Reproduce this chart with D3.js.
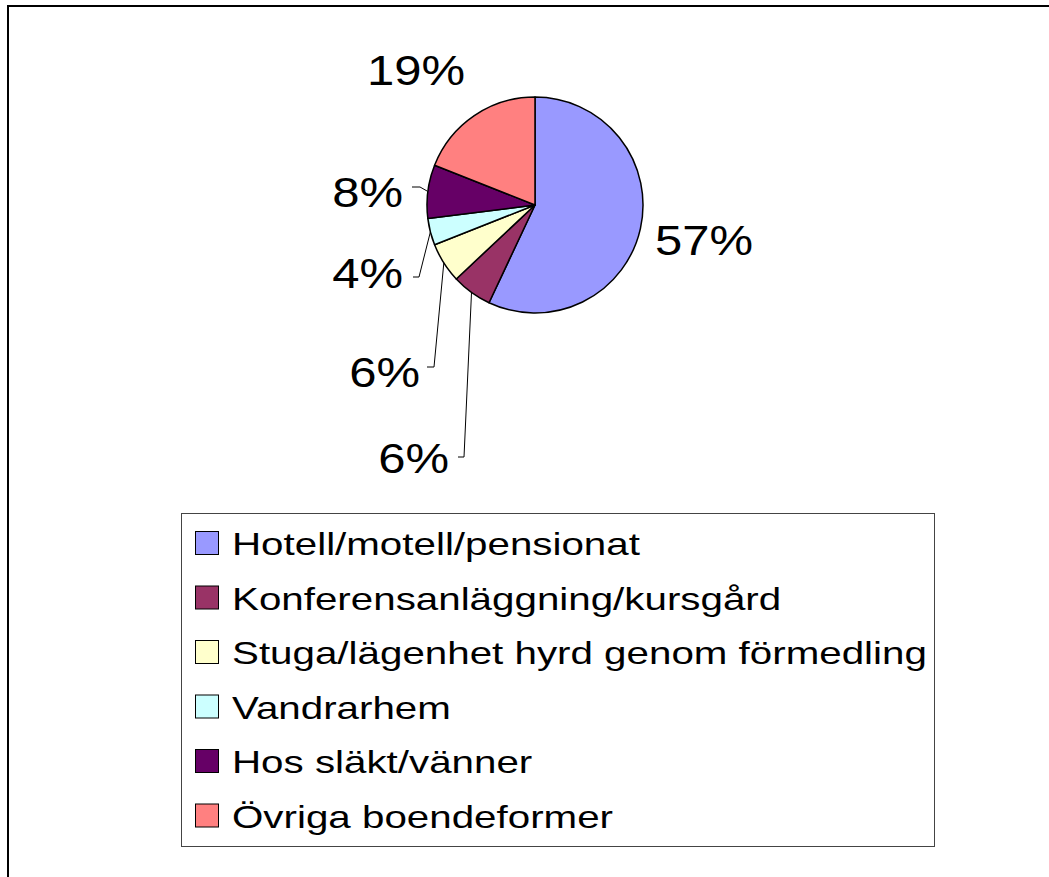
<!DOCTYPE html>
<html>
<head>
<meta charset="utf-8">
<script src="https://cdn.jsdelivr.net/npm/d3@7"></script>
<style>
  html, body { margin: 0; padding: 0; background: #fff; overflow: hidden; }
  svg { display: block; }
  text { font-family: "Liberation Sans", Arial, sans-serif; fill: #000; }
</style>
</head>
<body>
<script>
// Data
var categories = ["Hotell/motell/pensionat", "Konferensanläggning/kursgård",
  "Stuga/lägenhet hyrd genom förmedling", "Vandrarhem", "Hos släkt/vänner",
  "Övriga boendeformer"];
var shares = [57, 6, 6, 4, 8, 19];
var labels = ["57%", "6%", "6%", "4%", "8%", "19%"];
var colors = ["#9999FF", "#993366", "#FFFFCC", "#CCFFFF", "#660066", "#FF8080"];

// Layout of the labels relative to the pie centre (they were dragged by hand)
var labelLayout = [
  {x: 120, y: 50, anchor: "start", elbow: null},
  {x: -86, y: 268, anchor: "end", elbow: [-77, 252, -71, 252]},
  {x: -115, y: 182, anchor: "end", elbow: [-108, 162, -101, 162]},
  {x: -132, y: 83, anchor: "end", elbow: [-122, 72, -116, 72]},
  {x: -132, y: 2, anchor: "end", elbow: [-123, -18, -115, -18]},
  {x: -119, y: -120, anchor: "middle", elbow: null}
];

var width = 1049, height = 877;
var cx = 535, cy = 205, radius = 108;

var svg = d3.select("body")
.append("svg")
.attr("width", width)
.attr("height", height);

// Outer chart border: only its top and left edges fall inside the picture
svg.append("path")
.attr("d", d3.line()([[8, height], [8, 6], [width, 6]]))
.attr("fill", "none")
.attr("stroke", "#000")
.attr("stroke-width", 2);

// Stretch text horizontally like the original rendering
function stretch(sel, factor) {
  sel.each(function() {
    var w = this.getComputedTextLength();
    d3.select(this)
    .attr("textLength", w * factor)
    .attr("lengthAdjust", "spacingAndGlyphs");
  });
}

var pie = d3.pie().sort(null).value(function(d) { return d; });
var arcs = pie(shares);
var arc = d3.arc().innerRadius(0).outerRadius(radius);

var g = svg.append("g")
.attr("transform", `translate(${cx},${cy})`);

g.selectAll("path.slice")
.data(arcs)
.enter()
.append("path")
.attr("class", "slice")
.attr("d", arc)
.attr("fill", function(d, i) { return colors[i]; })
.attr("stroke", "#000")
.attr("stroke-width", 1.5)
.attr("stroke-linejoin", "round");

// Leader lines from the slice edge to the label
arcs.forEach(function(d, i) {
  var L = labelLayout[i];
  if (!L.elbow) return;
  var mid = (d.startAngle + d.endAngle) / 2;
  var px = radius * Math.sin(mid), py = -radius * Math.cos(mid);
  g.append("path")
  .attr("d", d3.line()([[L.elbow[0], L.elbow[1]], [L.elbow[2], L.elbow[3]], [px, py]]))
  .attr("fill", "none")
  .attr("stroke", "#000")
  .attr("stroke-width", 1);
});

g.selectAll("text.lbl")
.data(arcs)
.enter()
.append("text")
.attr("class", "lbl")
.attr("x", function(d, i) { return labelLayout[i].x; })
.attr("y", function(d, i) { return labelLayout[i].y; })
.attr("text-anchor", function(d, i) { return labelLayout[i].anchor; })
.style("font-size", "43px")
.text(function(d, i) { return labels[i]; })
.call(stretch, 1.14);

// Legend
var legendX = 181, legendY = 513, legendW = 753, legendH = 333, rowStep = 54.5;

svg.append("rect")
.attr("x", legendX + 0.5)
.attr("y", legendY + 0.5)
.attr("width", legendW)
.attr("height", legendH)
.attr("fill", "#fff")
.attr("stroke", "#444")
.attr("stroke-width", 1);

var rows = svg.selectAll("g.legend-row")
.data(categories)
.enter()
.append("g")
.attr("class", "legend-row")
.attr("transform", function(d, i) { return `translate(0,${legendY + 42 + i * rowStep})`; });

rows.append("rect")
.attr("x", 195.5)
.attr("y", -23.5)
.attr("width", 23)
.attr("height", 23)
.attr("fill", function(d, i) { return colors[i]; })
.attr("stroke", "#000")
.attr("stroke-width", 1);

rows.append("text")
.attr("x", 232)
.attr("y", 0)
.style("font-size", "32px")
.text(function(d) { return d; })
.call(stretch, 1.26);
</script>
</body>
</html>
